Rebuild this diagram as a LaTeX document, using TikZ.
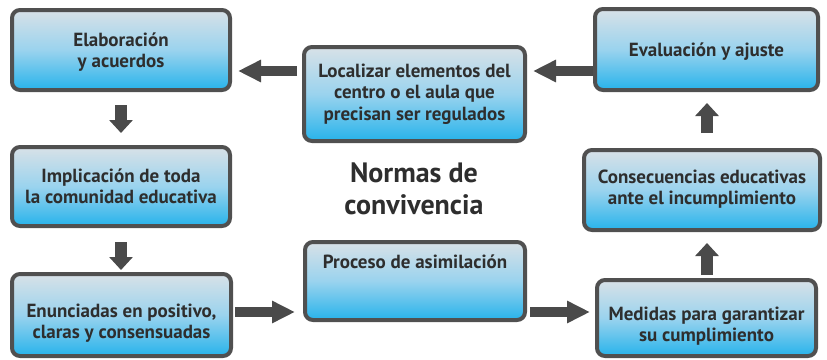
\documentclass[tikz,border=0pt]{standalone}
\usepackage{fontspec}
\setmainfont{PT Sans}
\usetikzlibrary{arrows.meta,calc}
\definecolor{bordergray}{HTML}{505050}
\definecolor{arrowgray}{HTML}{4A4A4A}
\definecolor{txtgray}{HTML}{2E2E2E}
\definecolor{topblue}{HTML}{D8E1E7}
\definecolor{midblue}{HTML}{9AD3EE}
\definecolor{botblue}{HTML}{27B3EB}
\tikzset{
  boxnode/.style={draw=bordergray, line width=4pt, rounded corners=8pt,
    top color=topblue, bottom color=botblue, middle color=midblue,
    inner sep=0pt},
  boxtext/.style={font=\bfseries\fontsize{19}{21.5}\selectfont, text=txtgray, align=center},
  hbar/.style={draw=arrowgray, line width=10.5pt, -{Triangle[length=23pt,width=21pt]}},
  vbar/.style={draw=arrowgray, line width=12pt, -{Triangle[length=13pt,width=23pt]}},
}
\begin{document}
\begin{tikzpicture}[x=1pt,y=-1pt]
\useasboundingbox (0,0) rectangle (827,359);
% boxes
\node[boxnode, minimum width=218pt, minimum height=80pt,
  label={[boxtext,yshift=-2pt]center:Elaboración\\y acuerdos}] (elab) at (121,50) {};
\node[boxnode, minimum width=218pt, minimum height=79pt,
  label={[boxtext]center:Implicación de toda\\la comunidad educativa}] (impl) at (121,186.5) {};
\node[boxnode, minimum width=219pt, minimum height=82pt,
  label={[boxtext,yshift=-8pt]center:Enunciadas en positivo,\\claras y consensuadas}] (enun) at (121.5,315) {};
\node[boxnode, minimum width=221pt, minimum height=94pt,
  label={[boxtext]center:Localizar elementos del\\centro o el aula que\\precisan ser regulados}] (loc) at (414.5,94) {};
\node[boxnode, minimum width=220pt, minimum height=78pt,
  label={[boxtext,yshift=19pt]center:Proceso de asimilación}] (proc) at (415,281) {};
\node[boxnode, minimum width=223pt, minimum height=81pt,
  label={[boxtext,yshift=-2pt]center:Evaluación y ajuste}] (eval) at (706.5,49.5) {};
\node[boxnode, minimum width=236pt, minimum height=80pt,
  label={[boxtext,yshift=1pt]center:Consecuencias educativas\\ante el incumplimiento}] (cons) at (702,190) {};
\node[boxnode, minimum width=219pt, minimum height=76pt,
  label={[boxtext,yshift=-8pt]center:Medidas para garantizar\\su cumplimiento}] (med) at (706.5,318) {};
% centre title
\node[font=\bfseries\fontsize{28}{32}\selectfont, text=txtgray, align=center] (title) at (414,189) {Normas de\\convivencia};
% helper coordinates
\coordinate (ytop) at (0,71);
\coordinate (ybot) at (0,312);
\coordinate (xleft) at (121,0);
\coordinate (xright) at (707,0);
% horizontal arrows
\draw[hbar, shorten <=5pt, shorten >=6pt] (loc.west |- ytop) -- (elab.east |- ytop);
\draw[hbar, shorten <=0pt, shorten >=6pt] (eval.west |- ytop) -- (loc.east |- ytop);
\draw[hbar, shorten <=2pt, shorten >=8pt] (enun.east |- ybot) -- (proc.west |- ybot);
\draw[hbar, shorten <=3pt, shorten >=5pt] (proc.east |- ybot) -- (med.west |- ybot);
% vertical arrows
\draw[vbar, shorten <=13pt, shorten >=12pt] (xleft |- elab.south) -- (xleft |- impl.north);
\draw[vbar, shorten <=14pt, shorten >=2pt] (xleft |- impl.south) -- (xleft |- enun.north);
\draw[vbar, shorten <=3pt, shorten >=11pt] (xright |- med.north) -- (xright |- cons.south);
\draw[vbar, shorten <=15pt, shorten >=11pt] (xright |- cons.north) -- (xright |- eval.south);
\end{tikzpicture}
\end{document}
